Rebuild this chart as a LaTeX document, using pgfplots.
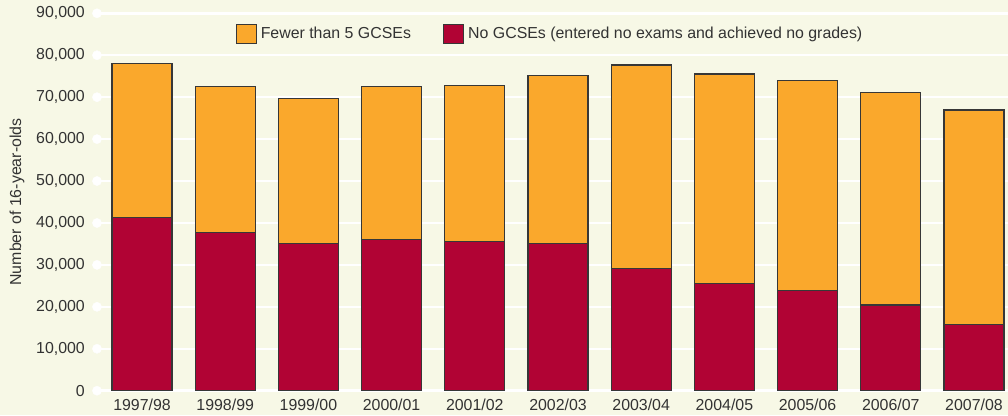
\documentclass[border=0pt]{standalone}
\usepackage{pgfplots}
\pgfplotsset{compat=1.18}
\usepackage{fontspec}
\setmainfont{Liberation Sans}

\definecolor{bgcream}{RGB}{247,248,230}
\definecolor{gcseorange}{RGB}{250,168,44}
\definecolor{gcsered}{RGB}{177,3,52}
\definecolor{txtgray}{RGB}{51,51,51}
\definecolor{edgegray}{RGB}{55,55,55}

\pgfplotsset{
    swatch/.style={legend image code/.code={\draw[##1] (0pt,-9.5pt) rectangle (20pt,9.5pt);}},
}

\begin{document}
\begin{tikzpicture}
% page background
\fill[bgcream] (-97pt,-24.3pt) rectangle (911pt,390.7pt);
\begin{axis}[
    scale only axis,
    width=911pt, height=377.4pt,
    xmin=-0.541, xmax=10.409,
    ymin=0, ymax=90000,
    clip=false,
    axis line style={draw=none},
    major tick length=0pt,
    ymajorgrids,
    grid style={white, line width=2.5pt},
    ytick={0,10000,...,90000},
    scaled y ticks=false,
    /pgf/number format/.cd, 1000 sep={,}, assume math mode=true,
    /pgfplots/.cd,
    xtick={0,...,10},
    xticklabels={1997/98,1998/99,1999/00,2000/01,2001/02,2002/03,2003/04,2004/05,2005/06,2006/07,2007/08},
    ticklabel style={font=\fontsize{15.9}{18}\selectfont, text=txtgray, inner sep=0pt},
    yticklabel style={anchor=east},
    yticklabel shift=12pt,
    xticklabel style={anchor=north},
    xticklabel shift=8pt,
    ylabel={Number of 16-year-olds},
    ylabel style={at={(axis description cs:-0.0878,0.5)}, anchor=center,
        font=\fontsize{15.9}{18}\selectfont, text=txtgray},
    legend columns=2,
    legend style={at={(0.4983,0.946)}, anchor=center, draw=none, fill=none,
        font=\fontsize{15.9}{18}\selectfont, text=txtgray,
        nodes={inner sep=4pt},
        /tikz/every even column/.append style={column sep=28pt}},
    ybar, bar width=60pt, bar shift=0pt,
]
% white dots at the left end of each gridline
\addplot[only marks, mark=*, mark size=4.6pt, white, forget plot] coordinates {
    (-0.541,0) (-0.541,10000) (-0.541,20000) (-0.541,30000) (-0.541,40000)
    (-0.541,50000) (-0.541,60000) (-0.541,70000) (-0.541,80000) (-0.541,90000)
};
% fewer than 5 GCSEs (bar total)
\addplot[fill=gcseorange, draw=edgegray, line width=1.2pt, swatch] coordinates {
    (0,78080) (1,72500) (2,69640) (3,72500) (4,72830) (5,75220)
    (6,77680) (7,75530) (8,74030) (9,71070) (10,66940)
};
\addlegendentry{Fewer than 5 GCSEs}
% no GCSEs
\addplot[fill=gcsered, draw=edgegray, line width=1.2pt, swatch] coordinates {
    (0,41260) (1,37680) (2,35150) (3,36010) (4,35540) (5,35150)
    (6,29190) (7,25620) (8,23940) (9,20440) (10,15840)
};
\addlegendentry{No GCSEs (entered no exams and achieved no grades)}
\end{axis}
\pgfresetboundingbox
\path (-97pt,-24.3pt) rectangle (911pt,390.7pt);
\end{tikzpicture}
\end{document}
